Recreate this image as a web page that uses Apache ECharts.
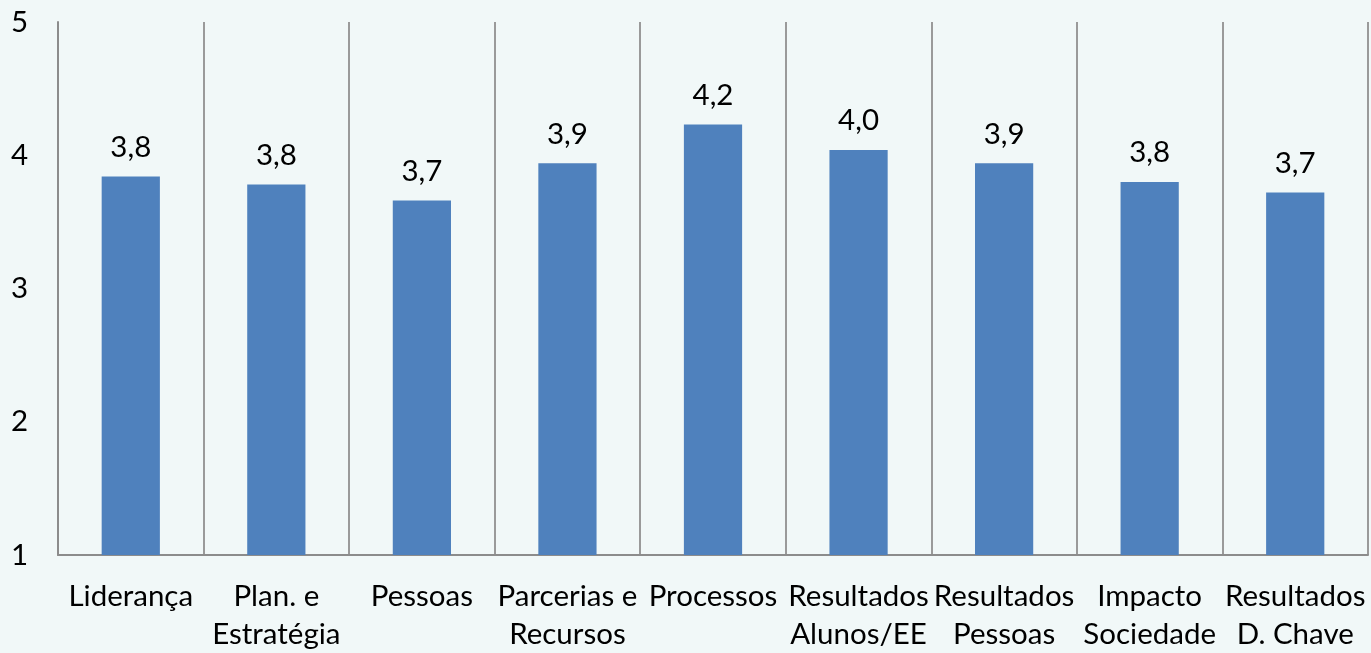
<!DOCTYPE html>
<html><head><meta charset="utf-8">
<script src="https://cdn.jsdelivr.net/npm/echarts@6/dist/echarts.min.js"></script>
<style>html,body{margin:0;padding:0;background:#F1F8F8;}#c{width:1371px;height:653px;}</style>
</head><body><div id="c"></div>
<script>
const categories = ["Liderança","Plan. e\nEstratégia","Pessoas","Parcerias e\nRecursos","Processos","Resultados\nAlunos/EE","Resultados\nPessoas","Impacto\nSociedade","Resultados\nD. Chave"];
const values = [3.84, 3.78, 3.66, 3.94, 4.23, 4.04, 3.94, 3.80, 3.72];
const yTicks = [1, 2, 3, 4, 5];

const chart = echarts.init(document.getElementById('c'));
const font = 'Lato, "Open Sans", sans-serif';
chart.setOption({
  backgroundColor: '#F1F8F8',
  animation: false,
  grid: {left: 58, right: 3, top: 22, bottom: 96},
  xAxis: {
    type: 'category', data: categories,
    axisLine: {show: true, lineStyle: {color: '#8c8c8c', width: 2}},
    axisTick: {show: false},
    splitLine: {show: true, lineStyle: {color: '#9a9a9a', width: 2}},
    axisLabel: {interval: 0, color: '#000', fontFamily: font, fontSize: 29.5, lineHeight: 38, margin: 22}
  },
  yAxis: {
    type: 'value', min: yTicks[0], max: yTicks[yTicks.length-1], interval: 1,
    axisLine: {show: true, lineStyle: {color: '#8c8c8c', width: 2}},
    axisTick: {show: false},
    splitLine: {show: false},
    axisLabel: {color: '#000', fontFamily: font, fontSize: 29.5, margin: 47, align: 'left'}
  },
  series: [{
    type: 'bar', data: values, barWidth: '40%',
    itemStyle: {color: '#4F81BD'},
    label: {show: true, position: 'top', distance: 14, color: '#000', fontFamily: font, fontSize: 29.5,
      formatter: p => p.value.toFixed(1).replace('.', ',')}
  }]
});
</script></body></html>
